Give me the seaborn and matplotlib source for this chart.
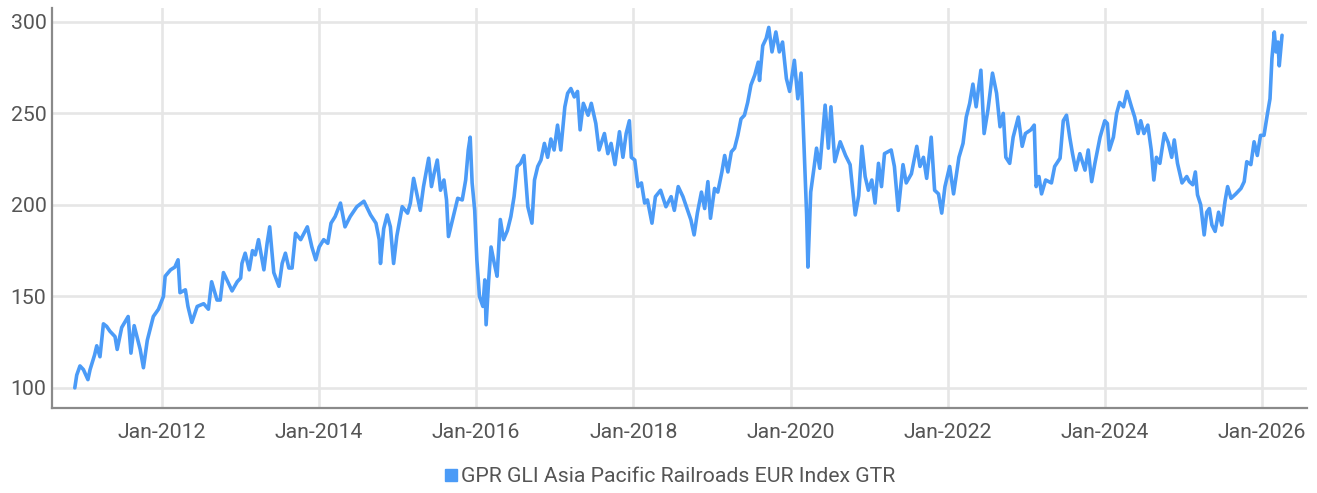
import pandas as pd
import matplotlib.pyplot as plt
import matplotlib.dates as mdates
from matplotlib.lines import Line2D
import seaborn as sns

serie = "GPR GLI Asia Pacific Railroads EUR Index GTR"

fechas = [
    "2010-11-22", "2010-12-01", "2010-12-16", "2011-01-01", "2011-01-22", "2011-02-01",
    "2011-02-22", "2011-03-04", "2011-03-19", "2011-04-04", "2011-04-19", "2011-05-04",
    "2011-05-28", "2011-06-07", "2011-06-28", "2011-07-28", "2011-08-10", "2011-08-25",
    "2011-09-22", "2011-10-07", "2011-10-25", "2011-11-22", "2011-12-16", "2012-01-08",
    "2012-01-16", "2012-02-10", "2012-03-01", "2012-03-16", "2012-03-25", "2012-04-19",
    "2012-05-01", "2012-05-19", "2012-06-13", "2012-07-13", "2012-08-04", "2012-08-19",
    "2012-09-13", "2012-09-28", "2012-10-13", "2012-11-22", "2012-12-16", "2013-01-01",
    "2013-01-07", "2013-01-22", "2013-02-10", "2013-02-25", "2013-03-10", "2013-03-25",
    "2013-04-19", "2013-05-04", "2013-05-16", "2013-06-04", "2013-06-28", "2013-07-13",
    "2013-07-28", "2013-08-13", "2013-08-28", "2013-09-13", "2013-10-07", "2013-11-07",
    "2013-11-28", "2013-12-16", "2014-01-01", "2014-01-22", "2014-02-10", "2014-02-25",
    "2014-03-16", "2014-04-10", "2014-05-01", "2014-05-25", "2014-06-25", "2014-07-28",
    "2014-08-28", "2014-09-22", "2014-10-07", "2014-10-13", "2014-10-28", "2014-11-13",
    "2014-11-28", "2014-12-13", "2014-12-28", "2015-01-22", "2015-02-16", "2015-03-01",
    "2015-03-16", "2015-04-01", "2015-04-16", "2015-05-01", "2015-05-25", "2015-06-07",
    "2015-06-19", "2015-07-04", "2015-07-19", "2015-08-04", "2015-08-16", "2015-08-25",
    "2015-09-13", "2015-10-07", "2015-10-28", "2015-11-13", "2015-11-25", "2015-12-04",
    "2015-12-13", "2015-12-25", "2016-01-04", "2016-01-16", "2016-02-01", "2016-02-10",
    "2016-02-16", "2016-02-28", "2016-03-10", "2016-03-25", "2016-04-07", "2016-04-22",
    "2016-05-07", "2016-05-25", "2016-06-10", "2016-06-25", "2016-07-10", "2016-07-25",
    "2016-08-10", "2016-08-28", "2016-09-16", "2016-09-28", "2016-10-13", "2016-10-28",
    "2016-11-13", "2016-11-28", "2016-12-13", "2016-12-28", "2017-01-13", "2017-01-28",
    "2017-02-16", "2017-03-01", "2017-03-16", "2017-04-01", "2017-04-16", "2017-04-28",
    "2017-05-13", "2017-06-04", "2017-06-19", "2017-07-10", "2017-07-25", "2017-08-19",
    "2017-09-04", "2017-09-19", "2017-10-07", "2017-10-28", "2017-11-13", "2017-11-28",
    "2017-12-13", "2017-12-22", "2018-01-07", "2018-01-22", "2018-02-07", "2018-02-22",
    "2018-03-07", "2018-03-28", "2018-04-13", "2018-05-07", "2018-06-01", "2018-06-25",
    "2018-07-10", "2018-07-28", "2018-08-19", "2018-09-10", "2018-09-25", "2018-10-10",
    "2018-10-25", "2018-11-13", "2018-11-28", "2018-12-13", "2018-12-25", "2019-01-13",
    "2019-01-28", "2019-02-16", "2019-03-01", "2019-03-16", "2019-04-01", "2019-04-16",
    "2019-05-01", "2019-05-16", "2019-06-01", "2019-06-16", "2019-07-01", "2019-07-19",
    "2019-08-04", "2019-08-10", "2019-08-25", "2019-09-10", "2019-09-22", "2019-10-07",
    "2019-10-25", "2019-11-10", "2019-11-25", "2019-12-13", "2019-12-28", "2020-01-19",
    "2020-02-04", "2020-02-19", "2020-02-25", "2020-03-04", "2020-03-16", "2020-03-22",
    "2020-04-04", "2020-04-19", "2020-05-01", "2020-05-16", "2020-06-01", "2020-06-10",
    "2020-06-25", "2020-07-07", "2020-07-25", "2020-08-19", "2020-09-13", "2020-10-04",
    "2020-10-28", "2020-11-13", "2020-11-28", "2020-12-13", "2020-12-28", "2021-01-13",
    "2021-01-28", "2021-02-13", "2021-02-27", "2021-03-13", "2021-04-13", "2021-04-28",
    "2021-05-16", "2021-06-07", "2021-06-22", "2021-07-16", "2021-08-10", "2021-08-25",
    "2021-09-10", "2021-09-25", "2021-10-16", "2021-11-01", "2021-11-19", "2021-12-04",
    "2021-12-19", "2022-01-10", "2022-01-28", "2022-02-22", "2022-03-13", "2022-03-28",
    "2022-04-13", "2022-04-28", "2022-05-13", "2022-06-04", "2022-06-19", "2022-07-07",
    "2022-07-28", "2022-08-16", "2022-09-01", "2022-09-16", "2022-09-28", "2022-10-16",
    "2022-11-01", "2022-11-25", "2022-12-13", "2022-12-28", "2023-01-22", "2023-02-07",
    "2023-02-16", "2023-03-01", "2023-03-13", "2023-04-01", "2023-04-28", "2023-05-13",
    "2023-06-07", "2023-06-22", "2023-07-07", "2023-07-22", "2023-08-04", "2023-08-19",
    "2023-09-07", "2023-10-01", "2023-10-16", "2023-11-01", "2023-11-16", "2023-12-10",
    "2024-01-01", "2024-01-13", "2024-01-22", "2024-02-10", "2024-02-25", "2024-03-10",
    "2024-03-28", "2024-04-13", "2024-05-04", "2024-05-19", "2024-06-04", "2024-06-16",
    "2024-07-01", "2024-07-19", "2024-08-04", "2024-08-16", "2024-08-28", "2024-09-13",
    "2024-10-04", "2024-10-22", "2024-11-07", "2024-11-19", "2024-12-04", "2024-12-25",
    "2025-01-16", "2025-01-28", "2025-02-13", "2025-02-25", "2025-03-07", "2025-03-22",
    "2025-04-07", "2025-04-19", "2025-05-01", "2025-05-13", "2025-05-28", "2025-06-13",
    "2025-06-28", "2025-07-13", "2025-07-25", "2025-08-10", "2025-09-01", "2025-09-25",
    "2025-10-10", "2025-10-22", "2025-11-10", "2025-11-25", "2025-12-10", "2025-12-25",
    "2026-01-10", "2026-01-25", "2026-02-07", "2026-02-16", "2026-02-27", "2026-03-07",
    "2026-03-16", "2026-03-22", "2026-04-04",
]

valores = [
    100, 107, 112, 110, 104.5, 110,
    118, 123, 117, 135, 133.6, 131,
    128, 121, 133, 139, 119, 134,
    121, 111, 126, 139, 143, 150,
    161, 164.5, 166, 170, 152, 153.6,
    144.5, 135.8, 144.5, 146, 143, 158,
    148, 148, 163, 153, 158, 160,
    168, 173.6, 164.5, 175, 172.7, 181,
    164.5, 179, 188, 163, 155.5, 168,
    173.6, 165.5, 165.5, 184.5, 181, 188,
    177, 170, 177, 181, 179, 190,
    193.6, 201, 188, 193.6, 199, 202,
    194.5, 190, 181, 168, 187, 194.5,
    188, 168, 183, 199, 195.5, 201,
    214.5, 205.5, 197, 210, 225.5, 210,
    217, 224.5, 208, 213.6, 202.7, 182.7,
    192, 203.6, 202.7, 213.6, 230, 237,
    212, 197, 170, 150, 144.5, 159,
    134.5, 159, 177, 168, 161, 192,
    181, 186, 193.6, 204.5, 221, 222.7,
    227, 199, 190, 213.6, 221, 224.5,
    233.6, 226, 236, 230, 243.6, 230,
    253.6, 261, 263.6, 259, 262, 241,
    255.5, 249, 255.5, 244.5, 230, 239,
    228, 233.6, 222, 240, 226, 239,
    246, 226, 224.5, 210, 212, 201,
    202.7, 190, 204.5, 208, 199, 204.5,
    197, 210, 204.5, 197, 191.8, 183.6,
    195.5, 207, 198, 212.7, 192.7, 209,
    207, 218, 227, 218, 229, 231,
    238, 247, 249, 256, 265.5, 271,
    278, 268, 287, 291, 297, 283.6,
    294.5, 283.6, 289, 269, 262, 279,
    258, 272, 256, 231, 194.5, 166,
    207, 220, 231, 220, 242, 254.5,
    231, 253.6, 223.6, 234.5, 227, 222,
    194.5, 205, 232, 215.5, 208, 213.6,
    201, 222.7, 210, 228, 230, 221,
    197, 222, 212, 217, 232, 221,
    226, 214.5, 237, 208, 206, 195.5,
    210, 221, 206, 226, 233.6, 248,
    255.5, 266, 253.6, 273.6, 239, 252,
    272, 261, 242.7, 250, 226, 222.7,
    237, 248, 232, 239, 241, 243.6,
    210, 215.5, 206, 213.6, 212, 221,
    225.5, 246, 249, 237, 228, 219,
    228, 219, 230, 212.7, 222.7, 237,
    246, 244.5, 230, 237, 250, 256,
    253.6, 262, 253.6, 248, 239, 246,
    239, 243.6, 230, 213.6, 226, 222.7,
    239, 234, 226, 235.5, 222.7, 212,
    215.5, 212.7, 211, 218, 205.5, 200,
    183.6, 196, 198, 189, 185.5, 196,
    189, 202, 210, 203.6, 206, 209,
    212.7, 223.6, 222, 234.5, 227, 238,
    238, 249, 258, 280, 294.5, 283.6,
    289, 276, 292.7,
]

ticks_y = [100, 150, 200, 250, 300]

df = pd.DataFrame({"fecha": pd.to_datetime(fechas), "valor": valores})

azul = "#4B9BF7"
gris_texto = "#555555"

sns.set_style("white")
plt.rcParams["font.family"] = ["Roboto", "DejaVu Sans"]

fig = plt.figure(figsize=(13.17, 4.93), dpi=100)
ax = fig.add_axes([52 / 1317, 1 - 408 / 493, (1307 - 52) / 1317, (408 - 8) / 493])

sns.lineplot(data=df, x="fecha", y="valor", color=azul, linewidth=2.6, ax=ax)

ax.set_xlim(pd.Timestamp("2010-08-08"), pd.Timestamp("2026-07-29"))
ax.set_ylim(89, 307.6)
ax.set_yticks(ticks_y)
ax.xaxis.set_major_locator(mdates.YearLocator(2, month=1, day=1))
ax.xaxis.set_major_formatter(mdates.DateFormatter("%b-%Y"))

ax.grid(True, color="#e6e6e6", linewidth=1.9)
ax.set_axisbelow(True)
ax.set_xlabel("")
ax.set_ylabel("")
ax.tick_params(axis="both", length=0, labelsize=15.3, colors=gris_texto)
ax.tick_params(axis="x", pad=11)
ax.tick_params(axis="y", pad=4)

for lado in ["top", "right"]:
    ax.spines[lado].set_visible(False)
ax.spines["left"].set_color("#8a8a8a")
ax.spines["left"].set_linewidth(1.6)
ax.spines["bottom"].set_color("#8a8a8a")
ax.spines["bottom"].set_linewidth(1.6)

marca = Line2D([], [], marker="s", linestyle="none", color=azul, markersize=9)
fig.legend([marca], [serie], loc="center", bbox_to_anchor=(669 / 1317, 1 - 477 / 493),
           frameon=False, fontsize=15.3, handletextpad=0.1, handlelength=0.8,
           labelcolor=gris_texto)

fig.savefig("out.png", dpi=100)
